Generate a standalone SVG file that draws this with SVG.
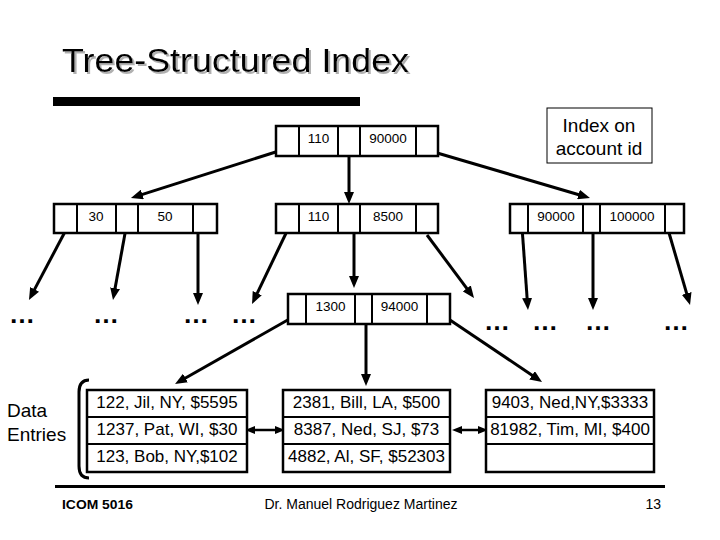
<svg xmlns="http://www.w3.org/2000/svg" width="720" height="540" viewBox="0 0 720 540">
<style>
text{font-family:"Liberation Sans",Arial,sans-serif;fill:#000}
.box{fill:#fff;stroke:#000;stroke-width:2.5}
.div{stroke:#000;stroke-width:2}
.key{font-size:13.5px;text-anchor:middle}
.arr{stroke:#000;stroke-width:3;fill:none;marker-end:url(#ah)}
.dbl{stroke:#000;stroke-width:2.5;fill:none;marker-end:url(#sh);marker-start:url(#shs)}
.dots{font-size:26px;font-weight:bold;text-anchor:middle}
.rec{font-size:17px;text-anchor:middle}
</style>
<defs>
<marker id="ah" viewBox="0 0 12 10" refX="4" refY="5" markerWidth="12" markerHeight="10" markerUnits="userSpaceOnUse" orient="auto"><path d="M0,0 L12,5 L0,10 z" fill="#000"/></marker>
<marker id="sh" viewBox="0 0 10 8" refX="3" refY="4" markerWidth="10" markerHeight="8" markerUnits="userSpaceOnUse" orient="auto"><path d="M0,0 L10,4 L0,8 z" fill="#000"/></marker>
<marker id="shs" viewBox="0 0 10 8" refX="7" refY="4" markerWidth="10" markerHeight="8" markerUnits="userSpaceOnUse" orient="auto"><path d="M10,0 L0,4 L10,8 z" fill="#000"/></marker>
<filter id="shadow" x="-5%" y="-20%" width="110%" height="140%"><feDropShadow dx="2" dy="2" stdDeviation="0.5" flood-color="#b0b0b0"/></filter>
</defs>
<rect width="720" height="540" fill="#fff"/>

<g id="title">
<text x="62" y="72" font-size="33" textLength="347" lengthAdjust="spacingAndGlyphs" filter="url(#shadow)">Tree-Structured Index</text>
<rect x="53" y="97" width="307" height="9" fill="#000"/>
</g>

<g id="index-label">
<rect x="547" y="108" width="105" height="55" fill="#fff" stroke="#000" stroke-width="1"/>
<text x="599" y="132" font-size="19" text-anchor="middle">Index on</text>
<text x="599" y="155" font-size="19" text-anchor="middle">account id</text>
</g>

<g id="connectors">
<line class="arr" x1="282" y1="150" x2="138.6" y2="195.6"/>
<line class="arr" x1="349" y1="150" x2="349" y2="196"/>
<line class="arr" x1="427" y1="150" x2="582.3" y2="195.7"/>
<line class="arr" x1="67" y1="228" x2="32.7" y2="292.9"/>
<line class="arr" x1="126" y1="228" x2="114.4" y2="292.1"/>
<line class="arr" x1="198" y1="222" x2="198" y2="297"/>
<line class="arr" x1="289" y1="227" x2="255.5" y2="296.8"/>
<line class="arr" x1="354" y1="232" x2="354" y2="280"/>
<line class="arr" x1="427" y1="235" x2="469.2" y2="291.6"/>
<line class="arr" x1="522" y1="227" x2="527.4" y2="302"/>
<line class="arr" x1="593" y1="232" x2="593" y2="302"/>
<line class="arr" x1="667" y1="226" x2="687.8" y2="297.3"/>
<line class="arr" x1="300" y1="313" x2="182" y2="380"/>
<line class="arr" x1="366" y1="318" x2="366" y2="378"/>
<line class="arr" x1="447" y1="318" x2="535.4" y2="377.5"/>
<line class="dbl" x1="252" y1="430" x2="278" y2="430"/>
<line class="dbl" x1="459" y1="430" x2="481" y2="430"/>
</g>

<g id="root">
<rect class="box" x="276" y="126" width="162" height="30"/>
<line class="div" x1="299" y1="126" x2="299" y2="156"/>
<line class="div" x1="338" y1="126" x2="338" y2="156"/>
<line class="div" x1="360" y1="126" x2="360" y2="156"/>
<line class="div" x1="416" y1="126" x2="416" y2="156"/>
<text class="key" x="318.5" y="143">110</text>
<text class="key" x="388" y="143">90000</text>
</g>

<g id="node-left">
<rect class="box" x="54" y="204" width="163" height="29"/>
<line class="div" x1="77" y1="204" x2="77" y2="233"/>
<line class="div" x1="116" y1="204" x2="116" y2="233"/>
<line class="div" x1="138" y1="204" x2="138" y2="233"/>
<line class="div" x1="193" y1="204" x2="193" y2="233"/>
<text class="key" x="96" y="221">30</text>
<text class="key" x="165" y="221">50</text>
</g>

<g id="node-mid">
<rect class="box" x="276" y="204" width="162" height="29"/>
<line class="div" x1="299" y1="204" x2="299" y2="233"/>
<line class="div" x1="338" y1="204" x2="338" y2="233"/>
<line class="div" x1="360" y1="204" x2="360" y2="233"/>
<line class="div" x1="416" y1="204" x2="416" y2="233"/>
<text class="key" x="318.5" y="221">110</text>
<text class="key" x="388" y="221">8500</text>
</g>

<g id="node-right">
<rect class="box" x="510" y="204" width="174" height="29"/>
<line class="div" x1="528" y1="204" x2="528" y2="233"/>
<line class="div" x1="583" y1="204" x2="583" y2="233"/>
<line class="div" x1="600" y1="204" x2="600" y2="233"/>
<line class="div" x1="665" y1="204" x2="665" y2="233"/>
<text class="key" x="556" y="221">90000</text>
<text class="key" x="632" y="221">100000</text>
</g>

<g id="node-leaf">
<rect class="box" x="288" y="294" width="162" height="30"/>
<line class="div" x1="306" y1="294" x2="306" y2="324"/>
<line class="div" x1="355" y1="294" x2="355" y2="324"/>
<line class="div" x1="372" y1="294" x2="372" y2="324"/>
<line class="div" x1="427" y1="294" x2="427" y2="324"/>
<text class="key" x="330.5" y="311">1300</text>
<text class="key" x="399.5" y="311">94000</text>
</g>

<g id="ellipses">
<text class="dots" x="22" y="323">…</text>
<text class="dots" x="106" y="323">…</text>
<text class="dots" x="196" y="323">…</text>
<text class="dots" x="244" y="323">…</text>
<text class="dots" x="497" y="330">…</text>
<text class="dots" x="545" y="330">…</text>
<text class="dots" x="598" y="330">…</text>
<text class="dots" x="676" y="330">…</text>
</g>

<g id="data-label">
<text x="7" y="417" font-size="19">Data</text>
<text x="7" y="441" font-size="19">Entries</text>
<path d="M89,380 Q79,380 79,392 L79,466 Q79,478 89,478" fill="none" stroke="#000" stroke-width="3"/>
</g>

<g id="page1">
<rect class="box" x="87" y="390" width="160" height="82"/>
<line class="div" x1="87" y1="417" x2="247" y2="417"/>
<line class="div" x1="87" y1="444" x2="247" y2="444"/>
<text class="rec" x="167" y="408">122, Jil, NY, $5595</text>
<text class="rec" x="167" y="435">1237, Pat, WI, $30</text>
<text class="rec" x="167" y="462">123, Bob, NY,$102</text>
</g>

<g id="page2">
<rect class="box" x="283" y="390" width="167" height="82"/>
<line class="div" x1="283" y1="417" x2="450" y2="417"/>
<line class="div" x1="283" y1="444" x2="450" y2="444"/>
<text class="rec" x="366.5" y="408">2381, Bill, LA, $500</text>
<text class="rec" x="366.5" y="435">8387, Ned, SJ, $73</text>
<text class="rec" x="366.5" y="462">4882, Al, SF, $52303</text>
</g>

<g id="page3">
<rect class="box" x="486" y="390" width="168" height="82"/>
<line class="div" x1="486" y1="417" x2="654" y2="417"/>
<line class="div" x1="486" y1="444" x2="654" y2="444"/>
<text class="rec" x="570" y="408">9403, Ned,NY,$3333</text>
<text class="rec" x="570" y="435">81982, Tim, MI, $400</text>
</g>

<g id="footer">
<rect x="55" y="485" width="610" height="3" fill="#000"/>
<text x="62" y="509" font-size="13.5" font-weight="bold" textLength="71" lengthAdjust="spacingAndGlyphs">ICOM 5016</text>
<text x="361" y="509" font-size="14" text-anchor="middle">Dr. Manuel Rodriguez Martinez</text>
<text x="661" y="509" font-size="14" text-anchor="end">13</text>
</g>
</svg>
